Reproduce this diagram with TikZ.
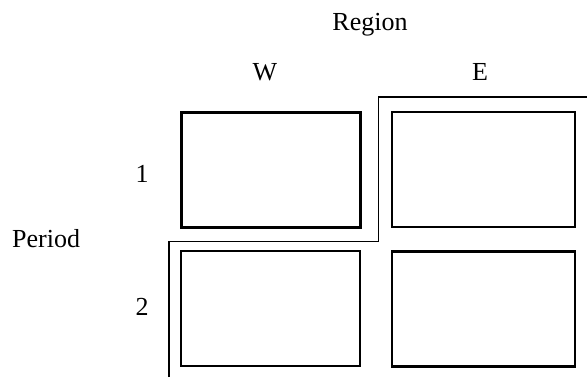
\documentclass[tikz,border=0pt]{standalone}
\usepackage{fontspec}
\setmainfont{Liberation Serif}
\begin{document}
\begin{tikzpicture}[x=1bp,y=-1bp,
  cell/.style={draw=black, line width=2.6bp, inner sep=0pt, minimum width=179bp, minimum height=115bp},
  cellr/.style={cell, minimum width=183bp},
  lab/.style={font=\fontsize{26bp}{30bp}\selectfont, anchor=base, inner sep=0pt},
  stair/.style={draw=black, line width=1.8bp}]
\useasboundingbox (0,0) rectangle (587,377);
\node[cell] (c11) at (270.75,170.25) {};
\node[cellr] (c12) at (483.5,169.5) {};
\node[cell] (c21) at (270.5,308.5) {};
\node[cellr] (c22) at (483.5,308.75) {};
\node[lab] (region) at (370,30) {Region};
\node[lab] (w) at (265,80) {W};
\node[lab] (e) at (480,80) {E};
\node[lab] (p1) at (142,182) {1};
\node[lab] (p2) at (142,315) {2};
\node[lab, anchor=base west] (period) at (12,247) {Period};
\coordinate (s0) at (169,377);
\coordinate (s1) at (169,241.5);
\coordinate (s2) at (378.5,241.5);
\coordinate (s3) at (378.5,96.7);
\coordinate (s4) at (587,96.7);
\draw[stair] (s0) -- (s1) -- (s2) -- (s3) -- (s4);
\end{tikzpicture}
\end{document}
